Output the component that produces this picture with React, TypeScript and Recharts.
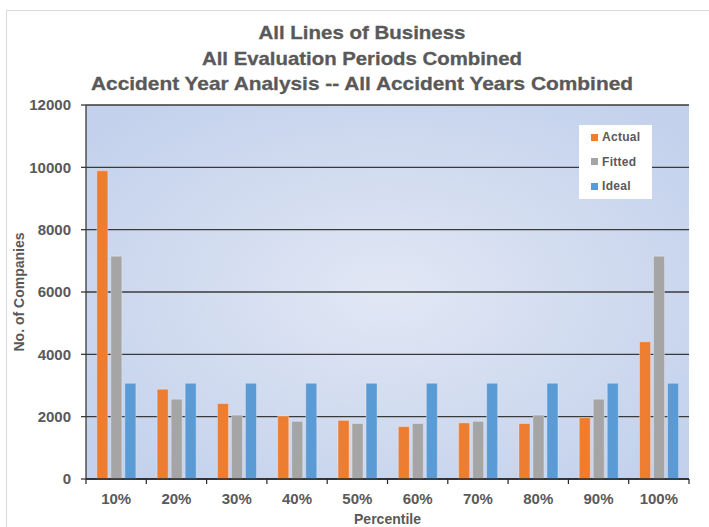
import React from 'react';
import { BarChart, Bar, XAxis, YAxis, CartesianGrid, Legend } from 'recharts';

const percentiles = ['10%', '20%', '30%', '40%', '50%', '60%', '70%', '80%', '90%', '100%'];
const actualCounts = [9890, 2880, 2420, 2020, 1880, 1680, 1800, 1780, 1970, 4400];
const fittedCounts = [7150, 2560, 2050, 1850, 1780, 1780, 1850, 2050, 2560, 7150];
const idealCounts = [3070, 3070, 3070, 3070, 3070, 3070, 3070, 3070, 3070, 3070];
const yTicks = [0, 2000, 4000, 6000, 8000, 10000, 12000];

const titleLines = [
  { text: 'All Lines of Business', y: 39, len: 207 },
  { text: 'All Evaluation Periods Combined', y: 65, len: 320 },
  { text: 'Accident Year Analysis -- All Accident Years Combined', y: 90, len: 542 },
];

const series = [
  { key: 'actual', name: 'Actual', color: '#ED7D31' },
  { key: 'fitted', name: 'Fitted', color: '#A5A5A5' },
  { key: 'ideal', name: 'Ideal', color: '#5B9BD5' },
];

const data = percentiles.map((p, i) => ({
  name: p,
  actual: actualCounts[i],
  fitted: fittedCounts[i],
  ideal: idealCounts[i],
}));

const W = 709;
const H = 527;
const FONT = '"Liberation Sans", Arial, sans-serif';
const TEXT = '#595959';

// category ticks: label in the middle, tick marks on the band edges
function PercentTick(props: any) {
  const { x, y, payload, index } = props;
  const half = payload && payload.offset ? payload.offset : 30.15;
  const last = index === percentiles.length - 1;
  return (
    <g>
      <line x1={x - half} y1={y} x2={x - half} y2={y + 5} stroke="#262626" strokeWidth={1.2} />
      {last && <line x1={x + half} y1={y} x2={x + half} y2={y + 5} stroke="#262626" strokeWidth={1.2} />}
      <text x={x} y={y + 25} textAnchor="middle" fontFamily={FONT} fontWeight="bold" fontSize={15} fill={TEXT}>
        {payload.value}
      </text>
    </g>
  );
}

function LegendBox() {
  return (
    <div style={{ width: 73, height: 74, background: '#fff', boxSizing: 'border-box', paddingTop: 0 }}>
      {series.map((s) => (
        <div key={s.key} style={{ display: 'flex', alignItems: 'center', height: 24.5, paddingLeft: 12 }}>
          <span style={{ width: 7, height: 7, background: s.color, display: 'inline-block', marginRight: 4 }} />
          <span style={{ fontFamily: FONT, fontWeight: 'bold', fontSize: 12, color: TEXT, letterSpacing: 0.3 }}>
            {s.name}
          </span>
        </div>
      ))}
    </div>
  );
}

export default function App() {
  return (
    <div style={{ position: 'absolute', left: 0, top: 0, width: W, height: H, overflow: 'hidden', background: '#fff' }}>
      <div
        style={{
          position: 'absolute',
          left: 6,
          top: 10,
          width: 760,
          height: 560,
          border: '1px solid #d9d9d9',
        }}
      />
      <svg style={{ position: 'absolute', left: 0, top: 0 }} width={W} height={110}>
        {titleLines.map((t) => (
          <text
            key={t.text}
            x={362}
            y={t.y}
            textAnchor="middle"
            fontFamily={FONT}
            fontWeight="bold"
            fontSize={18.5}
            fill={TEXT}
            stroke={TEXT}
            strokeWidth={0.3}
            textLength={t.len}
            lengthAdjust="spacingAndGlyphs"
          >
            {t.text}
          </text>
        ))}
      </svg>
      <div style={{ position: 'absolute', left: 0, top: 0 }}>
        <BarChart
          width={W}
          height={H}
          data={data}
          margin={{ top: 105, right: 20, bottom: 0, left: 0 }}
          barCategoryGap="18%"
          barGap={3}
        >
          <defs>
            <radialGradient id="plotBg" cx="50%" cy="50%" r="65%">
              <stop offset="0%" stopColor="#E1E7F4" />
              <stop offset="100%" stopColor="#C3D1EC" />
            </radialGradient>
          </defs>
          <CartesianGrid vertical={false} stroke="#3a3a3a" strokeWidth={1.3} fill="url(#plotBg)" fillOpacity={1} />
          <XAxis
            dataKey="name"
            height={48}
            axisLine={{ stroke: '#262626', strokeWidth: 1.3 }}
            tickLine={false}
            tickSize={0}
            tickMargin={0}
            interval={0}
            tick={<PercentTick />}
            label={{
              value: 'Percentile',
              position: 'insideBottom',
              offset: 3,
              style: { fontFamily: FONT, fontWeight: 'bold', fontSize: 14, fill: TEXT },
            }}
          />
          <YAxis
            width={86}
            domain={[0, 12000]}
            ticks={yTicks}
            interval={0}
            axisLine={{ stroke: '#3a3a3a', strokeWidth: 1.3 }}
            tickLine={{ stroke: '#3a3a3a', strokeWidth: 1.3 }}
            tickSize={5}
            tickMargin={10}
            tick={{ fontFamily: FONT, fontWeight: 'bold', fontSize: 15, fill: TEXT }}
            label={{
              value: 'No. of Companies',
              angle: -90,
              position: 'insideLeft',
              offset: 19,
              style: { fontFamily: FONT, fontWeight: 'bold', fontSize: 14, fill: TEXT, textAnchor: 'middle' },
            }}
          />
          <Legend
            layout="vertical"
            align="center"
            verticalAlign="middle"
            content={<LegendBox />}
            wrapperStyle={{ left: 579, top: 125, width: 73, height: 74 }}
          />
          {series.map((s) => (
            <Bar
              key={s.key}
              dataKey={s.key}
              name={s.name}
              fill={s.color}
              stroke="#ffffff"
              strokeOpacity={0.3}
              strokeWidth={1}
              isAnimationActive={false}
            />
          ))}
        </BarChart>
      </div>
    </div>
  );
}
